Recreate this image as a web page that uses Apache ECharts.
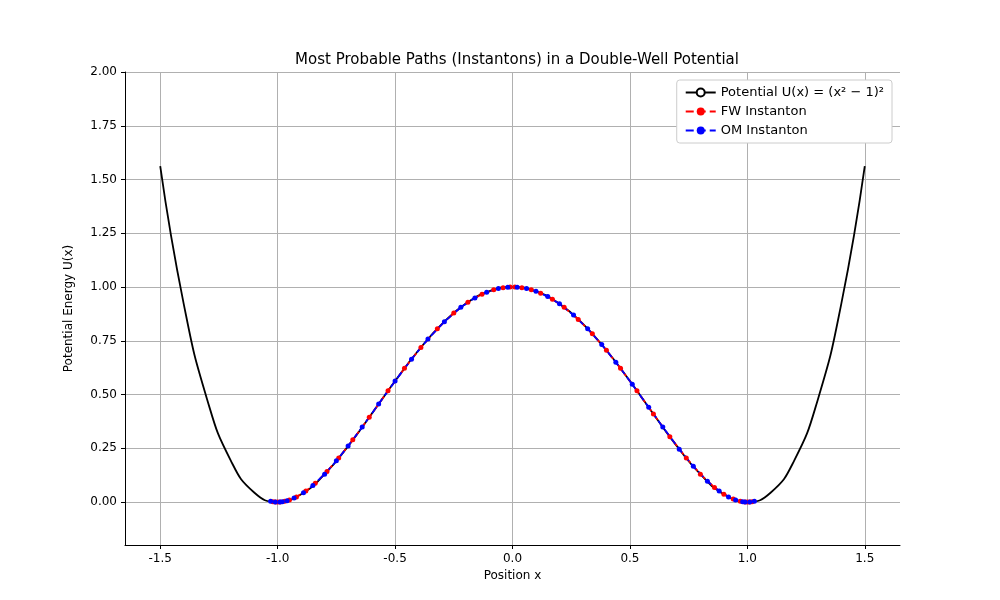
<!DOCTYPE html>
<html>
<head>
<meta charset="utf-8">
<script src="https://cdn.jsdelivr.net/npm/echarts@6/dist/echarts.min.js"></script>
<style>html,body{margin:0;padding:0;background:#fff}#chart{width:1000px;height:600px}</style>
</head>
<body>
<div id="chart"></div>
<script>
var potX = [-1.5,-1.4,-1.3,-1.2,-1.1,-1.0,-0.9,-0.8,-0.7,-0.6,-0.5,-0.4,-0.3,-0.2,-0.1,0,0.1,0.2,0.3,0.4,0.5,0.6,0.7,0.8,0.9,1.0,1.1,1.2,1.3,1.4,1.5];
var potY = [1.5625,0.9216,0.4761,0.1936,0.0441,0,0.0361,0.1296,0.2601,0.4096,0.5625,0.7056,0.8281,0.9216,0.9801,1,0.9801,0.9216,0.8281,0.7056,0.5625,0.4096,0.2601,0.1296,0.0361,0,0.0441,0.1936,0.4761,0.9216,1.5625];
var fwX = [-1.02,-1.01,-1.0,-0.99,-0.97,-0.95,-0.92,-0.88,-0.84,-0.79,-0.74,-0.68,-0.61,-0.53,-0.46,-0.39,-0.32,-0.25,-0.19,-0.13,-0.08,-0.04,-0.01,0.01,0.04,0.08,0.12,0.17,0.22,0.28,0.34,0.40,0.46,0.53,0.60,0.67,0.74,0.80,0.86,0.90,0.94,0.97,0.99,1.0,1.01,1.02];
var fwY = [0.0016,0.0004,0,0.0004,0.0035,0.0095,0.0236,0.0509,0.0867,0.1413,0.2047,0.289,0.3943,0.5171,0.6216,0.7189,0.8057,0.8789,0.929,0.9665,0.9872,0.9968,0.9998,0.9998,0.9968,0.9872,0.9714,0.943,0.9055,0.8493,0.7822,0.7056,0.6216,0.5171,0.4096,0.3037,0.2047,0.1296,0.0678,0.0361,0.0135,0.0035,0.0004,0,0.0004,0.0016];
var omX = [-1.03,-1.01,-0.99,-0.98,-0.96,-0.93,-0.89,-0.85,-0.80,-0.75,-0.70,-0.64,-0.57,-0.50,-0.43,-0.36,-0.29,-0.22,-0.16,-0.11,-0.06,-0.02,0.02,0.06,0.10,0.15,0.20,0.26,0.32,0.38,0.44,0.51,0.58,0.64,0.71,0.77,0.83,0.88,0.92,0.95,0.98,0.99,1.01,1.03];
var omY = [0.0037,0.0004,0.0004,0.0016,0.0061,0.0183,0.0432,0.077,0.1296,0.1914,0.2601,0.3486,0.4558,0.5625,0.6644,0.7576,0.8388,0.9055,0.9494,0.976,0.9928,0.9992,0.9992,0.9928,0.9801,0.9555,0.9216,0.8694,0.8057,0.7321,0.6503,0.5474,0.4404,0.3486,0.2459,0.1657,0.0968,0.0509,0.0236,0.0095,0.0016,0.0004,0.0004,0.0037];
var xTicks = [-1.5,-1.0,-0.5,0,0.5,1.0,1.5];
var yTicks = [0,0.25,0.5,0.75,1.0,1.25,1.5,1.75,2.0];

function pairs(xs, ys) { return xs.map(function (x, i) { return [x, ys[i]]; }); }

var chart = echarts.init(document.getElementById('chart'));
var font = 'DejaVu Sans';
chart.setOption({
    animation: false,
    textStyle: { fontFamily: font },
    title: {
        text: 'Most Probable Paths (Instantons) in a Double-Well Potential',
        left: 512, top: 48, textAlign: 'center',
        textStyle: { fontFamily: font, fontSize: 15, fontWeight: 'normal', color: '#000' }
    },
    legend: {
        right: 108, top: 80, orient: 'vertical', itemGap: 6,
        backgroundColor: '#fff', borderColor: '#ccc', borderWidth: 1, borderRadius: 3, padding: [6, 8],
        itemWidth: 30, itemHeight: 10,
        textStyle: { fontFamily: font, fontSize: 13, color: '#000' },
        data: ['Potential U(x) = (x² − 1)²', 'FW Instanton', 'OM Instanton']
    },
    grid: { left: 125, right: 100, top: 72, bottom: 55 },
    xAxis: {
        type: 'value', min: -1.65, max: 1.65,
        name: 'Position x', nameLocation: 'middle', nameGap: 22,
        nameTextStyle: { fontFamily: font, fontSize: 12, color: '#000' },
        axisLine: { onZero: false, lineStyle: { color: '#000' } },
        axisTick: { show: true, customValues: xTicks, length: 4, lineStyle: { color: '#000' } },
        axisLabel: { customValues: xTicks, color: '#000', fontSize: 12, formatter: function (v) { return v.toFixed(1); } },
        splitLine: { show: true, lineStyle: { color: '#b0b0b0' } }
    },
    yAxis: {
        type: 'value', min: -0.2, max: 2.0,
        name: 'Potential Energy U(x)', nameLocation: 'middle', nameGap: 50,
        nameTextStyle: { fontFamily: font, fontSize: 12, color: '#000' },
        axisLine: { show: true, onZero: false, lineStyle: { color: '#000' } },
        axisTick: { show: true, customValues: yTicks, length: 4, lineStyle: { color: '#000' } },
        axisLabel: { customValues: yTicks, color: '#000', fontSize: 12, formatter: function (v) { return v.toFixed(2); } },
        splitLine: { show: true, lineStyle: { color: '#b0b0b0' } }
    },
    series: [
        {
            name: 'Potential U(x) = (x² − 1)²', type: 'line', smooth: true, showSymbol: false,
            data: pairs(potX, potY), lineStyle: { color: '#000', width: 1.8 }, itemStyle: { color: '#000' }
        },
        {
            name: 'FW Instanton', type: 'line', symbol: 'circle', symbolSize: 5,
            data: pairs(fwX, fwY), lineStyle: { color: '#ff0000', width: 1.8, type: 'dashed' }, itemStyle: { color: '#ff0000' }
        },
        {
            name: 'OM Instanton', type: 'line', symbol: 'circle', symbolSize: 5,
            data: pairs(omX, omY), lineStyle: { color: '#0000ff', width: 1.8, type: 'dashed' }, itemStyle: { color: '#0000ff' }
        }
    ]
});
</script>
</body>
</html>
